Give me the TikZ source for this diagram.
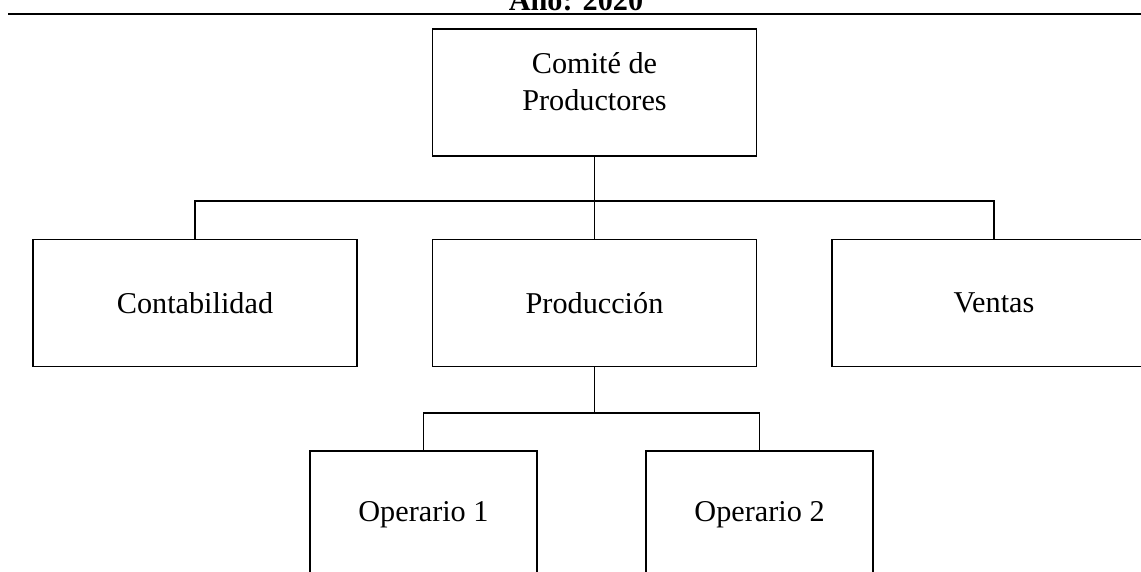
\documentclass[tikz,border=0pt]{standalone}
\usepackage{fontspec}
\setmainfont{Liberation Serif}
\usepackage{tikz}
\usetikzlibrary{positioning}

\begin{document}
\begin{tikzpicture}[x=0.025cm, y=-0.025cm, node distance=1cm,
  unit/.style={rectangle, draw, line width=1pt, minimum width=8.1cm, minimum height=3.175cm, text centered, align=center, font=\fontsize{21.5}{26.5}\selectfont},
  link/.style={line width=1.2pt}]

  \useasboundingbox (0,0) rectangle (1141,571);
  \clip (0,0) rectangle (1141,571);

  % Title and rule
  \node[anchor=base, font=\fontsize{21.5}{26}\selectfont\bfseries] (year) at (576,11) {Año: 2020};
  \draw[line width=1.4pt] (8,14) -- (1141,14);

  % Top
  \node[unit] (comite) at (594.5,92.5) {Comité de\\Productores\\[-11pt]\mbox{}};

  % Second level
  \node[unit, below=2.05cm of comite] (prod) {Producción};
  \node[unit, left=1.85cm of prod] (conta) {Contabilidad};
  \node[unit, right=1.85cm of prod] (ventas) {Ventas};

  % Third level
  \node[unit, minimum width=5.675cm, below=2.075cm of prod, xshift=-4.275cm] (op1) {Operario 1};
  \node[unit, minimum width=5.675cm, below=2.075cm of prod, xshift=4.125cm] (op2) {Operario 2};

  % Connectors
  \draw[link] (comite.south) -- ++(0,44) coordinate (bar1);
  \draw[link] (conta.north) |- (bar1) -| (ventas.north);
  \draw[link] (bar1) -- (prod.north);
  \draw[link] (prod.south) -- ++(0,46) coordinate (bar2);
  \draw[link] (op1.north) |- (bar2) -| (op2.north);

\end{tikzpicture}
\end{document}
